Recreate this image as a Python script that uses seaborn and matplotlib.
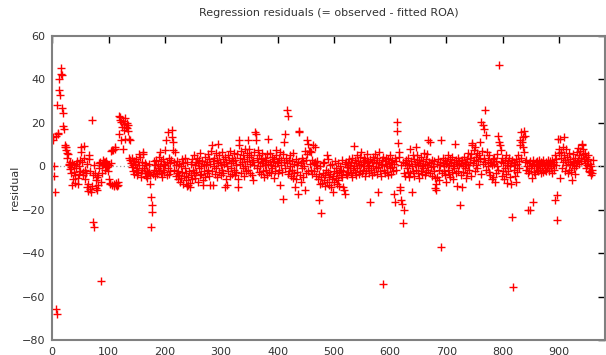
import numpy as np
import pandas as pd
import seaborn as sns
import matplotlib.pyplot as plt

res_001_080 = [13.4, 11.9, -4.5, 0.1, -12.0, 14.0, -65.7, -67.9, 28.0, 15.5,
               15.0, 40.2, 34.9, 32.6, 45.0, 42.5, 41.8, 26.9, 18.3, 24.5,
               17.0, 9.6, 8.8, 7.3, 9.0, 6.0, 3.7, 5.5, 1.0, 0.5,
               -1.2, 2.0, -0.5, -3.0, 1.5, -8.5, -6.0, -2.5, 0.8, -4.0,
               -7.5, 1.2, -1.0, 2.5, -5.5, -8.0, -3.5, 0.3, -2.0, 3.0,
               8.9, 6.6, 2.0, -2.5, -4.0, 9.2, 4.0, -1.5, -6.0, -3.0,
               1.0, -9.5, -11.5, -8.0, 5.0, 3.5, -2.0, -10.5, -12.0, 21.4,
               -9.0, -25.5, -4.0, 0.5, -27.8, -3.0, -10.0, -6.5, -5.0, -11.0]
res_081_160 = [-8.5, -4.0, 1.5, -1.0, 2.0, -7.0, -52.6, 0.5, -3.0, 2.8,
               1.0, 2.2, -1.5, 1.8, 0.0, 2.5, -0.5, 1.2, -2.0, 0.8,
               -6.0, -8.0, -7.5, 1.5, 7.0, 7.5, -8.5, 7.3, -8.0, -9.0,
               8.0, 8.9, -7.5, -8.7, -9.0, -7.0, -8.5, 15.0, 23.3, 21.5,
               22.6, 20.5, 12.0, 18.0, 21.0, 8.0, 19.5, 16.5, 12.7, 22.0,
               18.0, 20.0, 17.5, 16.0, 19.0, 12.5, 4.0, 12.0, 3.0, 1.5,
               4.0, -0.5, 0.5, -2.0, 2.5, -3.5, 1.0, -1.5, 3.5, -4.0,
               -1.0, 2.0, -2.5, 0.8, 5.5, 4.5, -3.0, -5.0, -1.5, 2.0]
res_161_240 = [5.8, 6.5, -1.0, 1.5, -3.0, -4.5, 0.5, -2.0, -5.5, -3.0,
               1.0, -2.5, -4.0, -8.0, -28.1, -14.0, -17.9, -21.0, -3.5, 2.5,
               -1.5, 0.5, -4.5, -2.0, 3.0, -3.5, 1.0, -1.0, 4.5, -2.0,
               6.6, 0.0, -3.0, 2.5, -5.0, -1.5, 3.5, 1.0, -2.5, 7.3,
               0.5, 12.0, -4.0, 2.0, -1.0, 15.7, 4.0, -3.5, 1.5, -2.0,
               3.0, 13.4, 16.5, 11.1, 7.3, -1.5, 2.0, 6.6, -4.5, 0.5,
               -3.0, 2.5, -6.0, -2.0, 1.0, -4.0, -7.0, 0.0, -5.5, 3.5,
               -2.5, -8.0, 1.5, -4.5, -1.0, 4.0, -6.5, -3.0, 2.0, -9.0]
res_241_320 = [-5.0, -8.5, -2.0, -7.5, -9.5, 1.0, -4.0, 3.5, -6.0, -1.5,
               5.0, -3.0, 0.5, -5.5, 2.0, -2.5, 4.0, -7.0, 1.5, -1.0,
               3.0, -4.0, 6.0, 0.0, -3.5, 2.5, -6.5, -8.7, 1.0, -2.0,
               4.5, -5.0, 0.5, 2.0, -3.0, 5.5, -1.5, 3.5, -4.5, -8.7,
               1.0, 7.0, 9.6, -2.0, 2.5, -8.7, 0.0, 4.0, -3.5, 6.0,
               -1.0, 3.0, -5.0, 1.5, 10.4, 5.0, -2.5, 2.0, -4.0, 0.5,
               6.5, -1.5, 3.5, -3.0, 1.0, 4.5, -9.5, -6.0, 2.0, -8.7,
               0.0, 5.0, -2.0, 3.0, -4.5, 7.0, 1.5, -1.0, 4.0, -3.5]
res_321_400 = [2.5, -1.5, 6.0, -4.0, 3.0, 0.5, -2.5, 5.5, -6.0, -9.5,
               12.0, 9.6, 1.0, 4.0, -3.0, 7.0, 2.0, -1.0, 5.0, -4.5,
               3.5, 0.0, 8.0, -2.0, 6.0, 2.5, 12.0, -1.5, 4.5, 8.0,
               1.0, -3.0, 5.0, 2.0, -4.0, 3.0, -6.4, 0.5, 6.5, 15.7,
               15.0, 12.0, 4.0, -1.0, 7.5, 2.0, -2.5, 5.0, 0.0, 3.5,
               -3.5, 1.5, 6.0, -2.0, 2.5, -5.0, 4.0, 0.5, -1.5, 3.0,
               -4.0, 5.5, 1.0, 12.7, -2.5, 2.0, 6.0, -3.0, 0.5, 4.5,
               -1.0, 2.5, -5.5, 3.5, 0.0, -2.0, 5.0, 7.3, 1.5, -3.0]
res_401_480 = [2.0, -1.5, 4.0, -8.7, 6.6, 0.5, 3.0, -2.5, 5.5, -14.8,
               11.1, 2.0, 15.0, -1.0, 4.0, 26.0, 1.5, -3.5, 23.0, 3.0,
               -2.0, 5.0, 0.0, -4.5, 2.5, -1.5, 6.0, -5.5, 1.0, -3.0,
               -9.5, 3.5, -6.0, 0.5, -2.5, 2.0, -12.5, 15.7, 16.2, -4.0,
               1.5, -7.0, 4.0, -1.0, 2.5, -5.0, 0.0, -10.7, 6.8, -3.0,
               3.0, 12.0, 5.5, -2.0, 10.4, 7.0, 1.0, 6.8, -1.5, 6.5,
               3.0, -3.5, 9.6, 1.5, -2.0, 8.9, 2.0, -4.5, 0.5, -1.0,
               2.5, -6.0, -3.5, -15.3, -8.0, 0.0, -21.4, -5.0, -7.5, 1.5]
res_481_560 = [-3.0, -6.5, 2.0, -9.0, -4.0, -1.5, 5.0, -7.0, -2.5, 3.5,
               -8.5, -5.0, 0.5, -3.5, -9.5, -6.0, 1.0, -4.5, -11.8, -2.0,
               -7.0, 2.5, -5.5, -1.0, -8.0, -3.0, 1.5, -6.5, -2.5, -9.0,
               0.0, -4.0, -1.5, 3.0, -5.0, -2.0, -9.5, -11.0, 1.0, -12.5,
               -3.5, 2.0, -0.5, -4.0, 1.5, -2.5, 3.5, -1.0, 0.5, -3.0,
               2.0, -5.0, 4.0, -1.5, 9.2, 0.0, -2.5, 3.0, -4.0, 1.5,
               5.0, -1.0, 2.5, -3.5, 0.5, 4.5, -2.0, 1.0, 6.6, -3.0,
               2.0, -1.5, 4.0, 0.0, -4.5, 3.0, -2.0, 1.5, 5.5, -1.0]
res_561_640 = [2.5, -3.0, 0.5, -16.4, 3.5, -1.5, 2.0, -4.0, 4.5, 0.0,
               -2.5, 3.0, 5.8, -1.0, 1.5, -3.5, 4.0, -0.5, -11.8, 2.0,
               6.6, -2.0, 1.0, -4.5, 3.0, 0.5, -54.1, 4.3, -1.5, 2.5,
               -3.0, 1.0, 4.0, -2.5, 0.0, 3.5, -4.0, 1.5, -1.0, 5.0,
               -3.5, 2.0, -0.5, 3.0, -2.0, -12.5, 1.0, -16.4, 4.0, -1.5,
               2.5, 20.3, 16.2, 10.7, 6.6, 4.3, -9.5, -11.0, 0.5, -15.6,
               -17.1, 2.0, -26.0, -20.2, -3.0, 1.5, -4.5, 3.0, -1.0, 0.5,
               -2.5, 4.0, -5.0, 1.0, 8.0, -3.0, 2.5, -11.8, 0.0, 5.0]
res_641_720 = [-2.0, 3.5, -4.5, 1.0, 8.9, -1.5, 2.0, 5.0, -3.0, 0.5,
               3.0, -5.5, 1.5, -2.0, 4.5, 0.0, -3.5, 2.5, -1.0, 6.0,
               -4.0, 1.0, 3.5, -2.5, 0.5, 5.5, -1.5, 12.0, 2.0, -3.0,
               11.1, 1.5, -0.5, 3.0, -4.5, 0.0, 2.5, -2.0, -5.6, -10.0,
               -8.0, -11.0, 1.0, -4.9, 3.5, -1.5, -6.5, 2.0, 0.5, -37.2,
               12.0, -3.0, 1.5, 4.0, -2.0, 0.0, 3.0, -4.0, 1.0, -7.0,
               2.5, -1.5, 5.0, -3.5, 0.5, 3.5, -5.0, 1.5, -2.5, 4.5,
               0.0, -6.0, 2.0, -1.0, 10.1, 3.0, -3.0, 1.0, -9.0, 4.0]
res_721_800 = [-2.0, 0.5, 2.5, -17.9, -4.0, 1.5, 3.0, -9.5, 0.0, -2.5,
               4.5, -1.0, 2.0, -5.5, 1.0, 3.5, -3.0, 6.0, 0.5, -1.5,
               4.0, 2.0, -4.5, 5.5, 10.7, 9.6, 1.5, 7.3, 3.0, 8.9,
               -2.0, 4.5, 0.5, 6.0, -1.0, 2.5, -8.0, 5.0, 11.1, 3.5,
               -3.5, 20.3, 7.0, 18.8, 1.0, 17.3, 4.0, 25.7, 2.0, 14.5,
               -1.5, 6.5, 0.0, 3.0, -2.5, 5.0, 1.5, -4.0, 2.0, -6.0,
               0.5, 3.5, -5.0, 1.0, 4.0, -7.0, 2.5, -3.0, 0.0, 5.5,
               -1.5, 13.8, 11.1, 46.5, 9.6, 7.3, 2.0, -4.5, 4.0, -2.0]
res_801_880 = [1.5, -6.0, 3.0, -1.0, 5.0, -3.5, 0.5, -7.5, 2.5, -2.0,
               4.0, 0.0, -5.0, 1.5, -8.0, -23.5, 3.0, -55.5, -1.5, 2.0,
               -4.5, 0.5, -7.0, 3.5, -2.5, 1.0, 5.0, -1.0, 2.5, 12.0,
               9.6, 4.0, 15.7, 11.0, 13.4, 8.9, 6.6, 16.2, 13.8, 2.0,
               -1.5, 3.0, 0.0, -3.0, -20.2, 1.5, -2.0, -19.9, 2.5, -1.0,
               -5.2, 0.5, 3.0, -16.4, -2.5, 1.0, -3.5, 2.0, 0.0, -1.5,
               2.5, 1.0, -2.0, 3.0, 0.5, -1.0, 2.0, -3.0, 1.5, 0.0,
               -2.5, 2.8, 1.0, -1.5, 0.5, 2.0, -2.0, 1.0, -1.0, 3.0]
res_881_960 = [0.5, -2.0, 1.5, 2.5, -1.0, 0.0, 3.0, -3.0, 1.0, -1.5,
               2.0, 5.0, -15.6, 0.5, 3.5, -13.3, -24.5, 12.7, 8.0, 6.0,
               -5.5, 12.7, 4.0, 6.6, -1.0, 9.0, 2.0, 13.4, 5.0, -2.0,
               3.0, 8.0, 0.5, 4.5, -3.0, 2.0, 6.0, -1.5, 1.0, 3.5,
               -2.5, -6.1, 0.5, 2.5, 5.5, -1.0, 1.5, 4.0, -3.5, 0.0,
               6.5, 2.0, 8.5, 3.0, 5.0, 1.0, 7.0, 4.0, 2.5, 10.4,
               9.6, 8.0, 5.8, 3.5, 6.0, 1.5, 4.5, -1.0, 2.5, 0.5,
               5.0, 3.5, -2.0, 1.0, -2.6, 0.0, -4.1, -3.0, -1.5, 3.0]

resid = (res_001_080 + res_081_160 + res_161_240 + res_241_320 + res_321_400 +
         res_401_480 + res_481_560 + res_561_640 + res_641_720 + res_721_800 +
         res_801_880 + res_881_960)
df = pd.DataFrame({'obs': np.arange(1, len(resid) + 1), 'residual': resid})

x_ticks = [0, 100, 200, 300, 400, 500, 600, 700, 800, 900]
y_ticks = [-80, -60, -40, -20, 0, 20, 40, 60]

sns.set_style('white')
plt.rcParams['font.family'] = ['DejaVu Sans']

fig = plt.figure(figsize=(6.06, 3.55), dpi=100)
ax = fig.add_axes([0.0861, 0.0411, 0.9119, 0.8583])

ax.axhline(0, color='#999999', linestyle=(0, (1, 2)), linewidth=0.9, zorder=1)
sns.scatterplot(data=df, x='obs', y='residual', marker='+', color='red',
                s=32, linewidth=1.0, ax=ax, zorder=2)

ax.set_xlim(0, 981)
ax.set_ylim(-80, 60)
ax.set_xticks(x_ticks)
ax.set_yticks(y_ticks)
ax.tick_params(direction='in', length=5, width=1, color='black',
               top=True, right=True, labelsize=8, labelcolor='#333333', pad=5)
for s in ax.spines.values():
    s.set_color('#808080')
    s.set_linewidth(1.5)

ax.set_xlabel('')
ax.set_ylabel('residual', fontsize=8, color='#333333', labelpad=1)
ax.set_title('Regression residuals (= observed - fitted ROA)', fontsize=8,
             color='#333333', pad=14)

fig.savefig('out.png', dpi=100)
